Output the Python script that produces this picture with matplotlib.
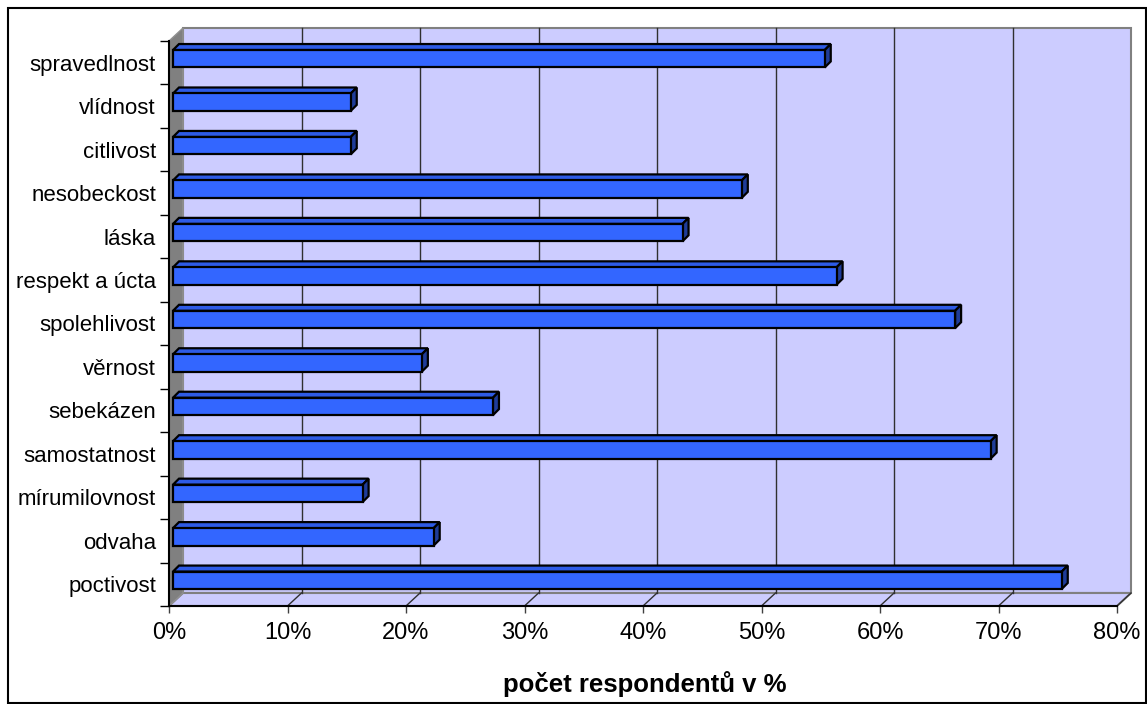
import matplotlib
matplotlib.use("Agg")
import matplotlib.pyplot as plt
from matplotlib.patches import Polygon, Rectangle

plt.rcParams['font.family'] = ['Liberation Sans', 'DejaVu Sans']

# Survey results (share of respondents, %), bottom to top
categories = ["poctivost", "odvaha", "mírumilovnost", "samostatnost", "sebekázen",
              "věrnost", "spolehlivost", "respekt a úcta", "láska", "nesobeckost",
              "citlivost", "vlídnost", "spravedlnost"]
values = [75, 22, 16, 69, 27, 21, 66, 56, 43, 48, 15, 15, 55]
x_ticks = [0, 10, 20, 30, 40, 50, 60, 70, 80]
x_tick_labels = ["0%", "10%", "20%", "30%", "40%", "50%", "60%", "70%", "80%"]
x_label = "počet respondentů v %"

W, H, DPI = 1147, 704, 100
fig = plt.figure(figsize=(W / DPI, H / DPI), dpi=DPI)

# front plane of the 3-D box, in pixels
left_px, right_px, top_px, bottom_px = 169, 1117, 41, 606
ax = fig.add_axes([left_px / W, (H - bottom_px) / H,
                   (right_px - left_px) / W, (bottom_px - top_px) / H])
xmax = 80
n = len(categories)
ax.set_xlim(0, xmax)
ax.set_ylim(-0.5, n - 0.5)

# pixel -> data unit conversions for the depth offsets
sx = (right_px - left_px) / xmax
sy = (bottom_px - top_px) / n
DX, DY = 14 / sx, 13 / sy          # wall depth
OX, OY = 4 / sx, 4 / sy            # bar front-face offset
BX, BY = 6 / sx, 6 / sy            # bar depth
bar_h = 17.4 / sy

wall = "#CCCCFF"
y0, y1 = -0.5, n - 0.5

# back wall
ax.add_patch(Polygon([(DX, y0 + DY), (xmax + DX, y0 + DY), (xmax + DX, y1 + DY), (DX, y1 + DY)],
                     closed=True, facecolor=wall, edgecolor="#808080", lw=1.5,
                     clip_on=False, zorder=0.5))
# floor
ax.add_patch(Polygon([(0, y0), (xmax, y0), (xmax + DX, y0 + DY), (DX, y0 + DY)],
                     closed=True, facecolor=wall, edgecolor="#808080", lw=1.5,
                     clip_on=False, zorder=0.5))
# left side wall
ax.add_patch(Polygon([(0, y0), (0, y1), (DX, y1 + DY), (DX, y0 + DY)],
                     closed=True, facecolor="#808080", edgecolor="#909090", lw=1,
                     clip_on=False, zorder=0.6))

# gridlines on the back wall and their continuation on the floor
for t in x_ticks[1:-1]:
    ax.plot([t + DX, t + DX], [y0 + DY, y1 + DY], color="#303030", lw=1,
            clip_on=False, zorder=0.7)
for t in x_ticks[1:]:
    ax.plot([t, t + DX], [y0, y0 + DY], color="#303030", lw=1,
            clip_on=False, zorder=0.7)

# 3-D bars
front_c, top_c, side_c = "#3366FF", "#2E5BE6", "#1F3C99"
for i, v in enumerate(values):
    xa, xb = OX, OX + v
    yb, yt = i + OY - bar_h / 2, i + OY + bar_h / 2
    ax.add_patch(Polygon([(xa, yt), (xb, yt), (xb + BX, yt + BY), (xa + BX, yt + BY)],
                         closed=True, facecolor=top_c, edgecolor="black", lw=1.6,
                         joinstyle="miter", clip_on=False, zorder=3))
    ax.add_patch(Polygon([(xb, yb), (xb, yt), (xb + BX, yt + BY), (xb + BX, yb + BY)],
                         closed=True, facecolor=side_c, edgecolor="black", lw=1.6,
                         joinstyle="miter", clip_on=False, zorder=3))
    ax.add_patch(Rectangle((xa, yb), v, bar_h, facecolor=front_c, edgecolor="black",
                           lw=1.6, joinstyle="miter", clip_on=False, zorder=4))

# axes lines and ticks
for s in ["top", "right"]:
    ax.spines[s].set_visible(False)
for s in ["left", "bottom"]:
    ax.spines[s].set_color("black")
    ax.spines[s].set_linewidth(1.5)
    ax.spines[s].set_zorder(2)
ax.patch.set_visible(False)

ax.set_xticks(x_ticks)
ax.set_xticklabels(x_tick_labels, fontsize=17)
ax.tick_params(axis="x", direction="out", length=5, width=1, color="#404040", pad=6.5)

ax.set_yticks([k - 0.5 for k in range(n + 1)])
ax.set_yticklabels([])
ax.tick_params(axis="y", which="major", direction="out", length=6.5, width=1, color="black")
ax.set_yticks(range(n), minor=True)
ax.set_yticklabels(categories, minor=True, fontsize=16)
ax.tick_params(axis="y", which="minor", length=0, pad=9.4)

fig.text(645 / W, (H - 692) / H, x_label, ha="center", va="baseline",
         fontsize=18.5, fontweight="bold")

# chart-area border
fig.add_artist(Rectangle((8 / W, 1.5 / H), (1146 - 8) / W, (702.5 - 8) / H,
                         transform=fig.transFigure, fill=False, edgecolor="black", lw=1.5))

fig.savefig("out.png", dpi=DPI, facecolor="white")
